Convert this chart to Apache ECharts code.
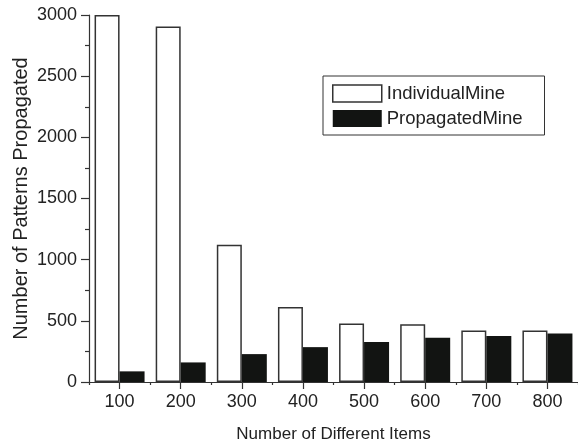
<!DOCTYPE html>
<html>
<head>
<meta charset="utf-8">
<script src="https://cdn.jsdelivr.net/npm/echarts@6/dist/echarts.min.js"></script>
<style>html,body{margin:0;padding:0;background:#fff;}#c{width:578px;height:448px;}</style>
</head>
<body>
<div id="c"></div>
<script>
var categories = ['100', '200', '300', '400', '500', '600', '700', '800'];
var individualMine = [3000, 2905, 1122, 614, 478, 473, 420, 420];
var propagatedMine = [87, 160, 228, 285, 326, 361, 377, 397];
var yTicks = { min: 0, max: 3000, interval: 500 };

var chart = echarts.init(document.getElementById('c'), null, { renderer: 'canvas' });
var txt = '#222';
var font = 'Liberation Sans, Arial, Helvetica, sans-serif';
chart.setOption({
  animation: false,
  backgroundColor: '#fff',
  textStyle: { fontFamily: font },
  grid: { left: 89, top: 15, width: 494, height: 368, containLabel: false },
  legend: {
    left: 323, top: 76,
    orient: 'vertical',
    padding: [8, 22, 7, 9],
    itemGap: 6,
    itemWidth: 49, itemHeight: 17,
    borderColor: '#333', borderWidth: 1,
    textStyle: { fontSize: 18.5, color: txt, fontFamily: font },
    data: [
      { name: 'IndividualMine', icon: 'rect', itemStyle: { color: '#fff', borderColor: '#333', borderWidth: 1.5 } },
      { name: 'PropagatedMine', icon: 'rect', itemStyle: { color: '#121412', borderColor: '#121412', borderWidth: 0 } }
    ]
  },
  xAxis: [
    {
      type: 'category', data: categories, position: 'bottom',
      axisLine: { show: true, lineStyle: { color: '#333', width: 1.2 } },
      axisTick: { show: true, alignWithLabel: true, length: 7, lineStyle: { color: '#333', width: 1.2 } },
      axisLabel: { fontSize: 18, color: txt, margin: 11, fontFamily: font },
      name: 'Number of Different Items', nameLocation: 'middle', nameGap: 44, nameMoveOverlap: false,
      nameTextStyle: { fontSize: 17, color: txt, fontFamily: font },
      splitLine: { show: false }
    },
    {
      type: 'category', data: categories, position: 'bottom', offset: 0,
      axisLine: { show: false },
      axisTick: { show: true, length: 3, lineStyle: { color: '#333', width: 1.2 } },
      axisLabel: { show: false },
      splitLine: { show: false }
    }
  ],
  yAxis: {
    type: 'value', min: yTicks.min, max: yTicks.max, interval: yTicks.interval,
    axisLine: { show: true, lineStyle: { color: '#333', width: 1.2 } },
    axisTick: { show: true, length: 8, lineStyle: { color: '#333', width: 1.2 } },
    minorTick: { show: true, splitNumber: 2, length: 4, lineStyle: { color: '#333', width: 1.2 } },
    axisLabel: { fontSize: 18, color: txt, margin: 12, fontFamily: font, formatter: function (v) { return String(v); } },
    splitLine: { show: false },
    name: 'Number of Patterns Propagated', nameLocation: 'middle', nameGap: 58, nameRotate: 90, nameMoveOverlap: false,
    nameTextStyle: { fontSize: 20, color: txt, fontFamily: font }
  },
  series: [
    {
      name: 'IndividualMine', type: 'bar', xAxisIndex: 0, data: individualMine,
      barWidth: 25, barGap: '0%',
      itemStyle: { color: '#fff', borderColor: '#333', borderWidth: 1.5 }
    },
    {
      name: 'PropagatedMine', type: 'bar', xAxisIndex: 0, data: propagatedMine,
      barWidth: 25, barGap: '0%',
      itemStyle: { color: '#121412', borderColor: '#121412', borderWidth: 0 }
    }
  ]
});
</script>
</body>
</html>
